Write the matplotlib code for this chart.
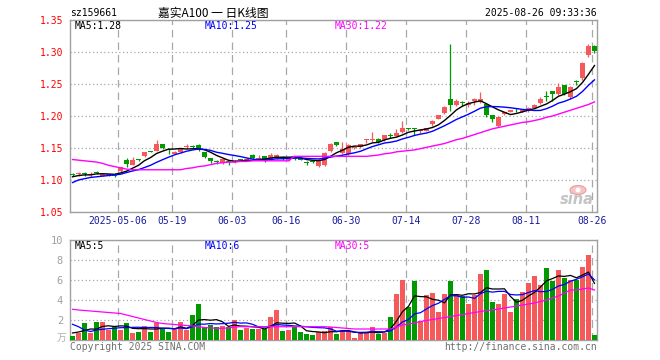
import numpy as np
import pandas as pd
import matplotlib
matplotlib.use("Agg")
import matplotlib.pyplot as plt
from matplotlib.patches import Ellipse

# ---- daily K data for sz159661 (嘉实A100)
opens = [1.109, 1.109, 1.111, 1.108, 1.112, 1.107, 1.107, 1.110, 1.114, 1.131,
         1.123, 1.132, 1.137, 1.145, 1.146, 1.156, 1.148, 1.141, 1.143, 1.152,
         1.153, 1.155, 1.143, 1.135, 1.129, 1.126, 1.129, 1.128, 1.132, 1.131,
         1.139, 1.133, 1.137, 1.132, 1.134, 1.135, 1.131, 1.134, 1.133, 1.127,
         1.129, 1.122, 1.124, 1.145, 1.159, 1.142, 1.140, 1.150, 1.151, 1.163,
         1.163, 1.164, 1.162, 1.170, 1.169, 1.175, 1.181, 1.181, 1.176, 1.177,
         1.187, 1.196, 1.204, 1.226, 1.217, 1.222, 1.217, 1.223, 1.222, 1.219,
         1.202, 1.184, 1.203, 1.207, 1.212, 1.207, 1.208, 1.213, 1.221, 1.230,
         1.239, 1.234, 1.248, 1.230, 1.254, 1.259, 1.295, 1.310]
highs = [1.111, 1.113, 1.113, 1.112, 1.114, 1.110, 1.110, 1.111, 1.121, 1.134,
         1.136, 1.133, 1.144, 1.146, 1.162, 1.156, 1.148, 1.145, 1.149, 1.156,
         1.154, 1.157, 1.144, 1.135, 1.131, 1.134, 1.130, 1.131, 1.133, 1.135,
         1.140, 1.139, 1.138, 1.142, 1.140, 1.137, 1.136, 1.135, 1.134, 1.129,
         1.130, 1.133, 1.144, 1.158, 1.160, 1.160, 1.156, 1.153, 1.157, 1.164,
         1.175, 1.165, 1.171, 1.173, 1.179, 1.192, 1.182, 1.182, 1.179, 1.182,
         1.193, 1.202, 1.215, 1.313, 1.226, 1.223, 1.223, 1.228, 1.238, 1.219,
         1.202, 1.200, 1.207, 1.208, 1.213, 1.209, 1.214, 1.219, 1.229, 1.239,
         1.239, 1.252, 1.249, 1.247, 1.256, 1.284, 1.3125, 1.311]
lows = [1.107, 1.107, 1.107, 1.105, 1.110, 1.106, 1.106, 1.105, 1.113, 1.121,
        1.123, 1.130, 1.136, 1.143, 1.145, 1.148, 1.140, 1.141, 1.142, 1.150,
        1.150, 1.145, 1.135, 1.127, 1.125, 1.125, 1.124, 1.127, 1.129, 1.129,
        1.133, 1.133, 1.128, 1.131, 1.133, 1.131, 1.130, 1.131, 1.131, 1.123,
        1.126, 1.121, 1.122, 1.144, 1.153, 1.141, 1.139, 1.149, 1.150, 1.158,
        1.159, 1.158, 1.161, 1.165, 1.168, 1.174, 1.178, 1.170, 1.174, 1.176,
        1.185, 1.195, 1.203, 1.208, 1.215, 1.216, 1.214, 1.217, 1.220, 1.199,
        1.191, 1.183, 1.202, 1.206, 1.206, 1.206, 1.207, 1.212, 1.219, 1.224,
        1.224, 1.233, 1.233, 1.226, 1.249, 1.257, 1.292, 1.299]
closes = [1.108, 1.110, 1.110, 1.109, 1.111, 1.109, 1.108, 1.107, 1.120, 1.125,
          1.132, 1.131, 1.143, 1.144, 1.157, 1.150, 1.147, 1.144, 1.148, 1.153,
          1.152, 1.147, 1.136, 1.129, 1.128, 1.133, 1.128, 1.129, 1.131, 1.132,
          1.134, 1.135, 1.131, 1.139, 1.139, 1.134, 1.135, 1.133, 1.132, 1.126,
          1.128, 1.132, 1.142, 1.157, 1.154, 1.148, 1.155, 1.151, 1.156, 1.164,
          1.164, 1.159, 1.170, 1.169, 1.173, 1.181, 1.180, 1.180, 1.177, 1.181,
          1.192, 1.201, 1.214, 1.217, 1.224, 1.221, 1.221, 1.226, 1.226, 1.202,
          1.196, 1.198, 1.207, 1.208, 1.211, 1.208, 1.213, 1.217, 1.227, 1.229,
          1.235, 1.246, 1.234, 1.246, 1.253, 1.283, 1.310, 1.302]
volumes = [0.4, 0.75, 1.7, 0.75, 1.8, 1.8, 1.05, 1.35, 1.05, 1.7,
           0.7, 0.85, 1.4, 0.85, 1.7, 1.1, 0.85, 1.1, 1.8, 1.0,
           2.5, 3.6, 1.3, 1.5, 1.3, 1.4, 1.3, 2.0, 1.0, 1.2,
           1.1, 1.1, 1.1, 2.3, 3.0, 0.9, 1.0, 1.3, 0.8, 0.63,
           0.5, 0.8, 0.9, 1.33, 0.6, 1.0, 0.9, 0.2, 0.77, 0.77,
           1.27, 0.6, 0.67, 2.3, 4.6, 6.0, 3.27, 5.9, 1.93, 4.5,
           4.73, 2.83, 4.6, 5.9, 4.6, 4.43, 3.6, 4.5, 6.6, 7.0,
           3.8, 3.6, 4.6, 2.8, 4.1, 4.8, 5.7, 6.4, 5.5, 7.2,
           5.93, 7.0, 6.17, 6.0, 6.0, 7.3, 8.5, 0.5]

# moving-average values visible before a full window exists (taken from the chart)
ma5_head = [1.105, 1.107, 1.108, 1.108]
ma10_head = [1.096, 1.100, 1.102, 1.104, 1.105, 1.106, 1.107, 1.108, 1.109]
ma30 = [1.132, 1.131, 1.130, 1.129, 1.128, 1.126, 1.123, 1.121, 1.119, 1.117,
        1.116, 1.116, 1.116, 1.116, 1.116, 1.116, 1.116, 1.116, 1.116, 1.118,
        1.119, 1.121, 1.122, 1.124, 1.126, 1.127, 1.128, 1.128, 1.129, 1.129,
        1.130, 1.130, 1.130, 1.130, 1.130, 1.130, 1.130, 1.137, 1.137, 1.137,
        1.137, 1.137, 1.137, 1.137, 1.137, 1.137, 1.137, 1.137, 1.137, 1.137,
        1.138, 1.139, 1.141, 1.142, 1.144, 1.145, 1.146, 1.147, 1.149, 1.151,
        1.153, 1.155, 1.157, 1.160, 1.163, 1.165, 1.168, 1.171, 1.174, 1.177,
        1.180, 1.182, 1.184, 1.186, 1.188, 1.190, 1.191, 1.193, 1.195, 1.198,
        1.200, 1.203, 1.206, 1.209, 1.212, 1.215, 1.218, 1.222]
vol_ma5_head = [0.7, 0.8, 0.95, 1.1]
vol_ma10_head = [1.57, 1.33, 1.0, 0.85, 1.0, 1.07, 1.13, 1.17, 1.23]
vol_ma30 = [3.07, 3.0, 2.95, 2.9, 2.85, 2.8, 2.75, 2.7, 2.65, 2.5,
            2.35, 2.2, 2.05, 1.9, 1.75, 1.65, 1.6, 1.55, 1.5, 1.45,
            1.4, 1.35, 1.25, 1.2, 1.17, 1.17, 1.2, 1.3, 1.33, 1.33,
            1.33, 1.33, 1.33, 1.33, 1.33, 1.33, 1.33, 1.33, 1.33, 1.33,
            1.33, 1.33, 1.33, 1.3, 1.25, 1.2, 1.15, 1.1, 1.1, 1.1,
            1.1, 1.1, 1.1, 1.1, 1.3, 1.5, 1.6, 1.7, 1.85, 1.95,
            2.05, 2.15, 2.25, 2.35, 2.45, 2.55, 2.65, 2.75, 2.85, 2.95,
            3.0, 3.1, 3.2, 3.3, 3.4, 3.5, 3.6, 3.7, 3.85, 4.0,
            4.2, 4.4, 4.7, 5.0, 5.0, 5.1, 5.2, 5.0]

tick_idx = [8, 17, 27, 36, 46, 56, 66, 76, 87]
tick_labels = ["2025-05-06", "05-19", "06-03", "06-16", "06-30",
               "07-14", "07-28", "08-11", "08-26"]
price_ticks = [1.05, 1.10, 1.15, 1.20, 1.25, 1.30, 1.35]
vol_ticks = [2, 4, 6, 8, 10]

RED = "#f65959"
GREEN = "#009a00"
MONO = "DejaVu Sans Mono"
CJK = ["Noto Sans CJK SC", "DejaVu Sans"]


def moving_avg(values, n, head):
    s = pd.Series(values, dtype=float).rolling(n).mean()
    s.iloc[:len(head)] = head
    return s.to_numpy()


x = np.arange(len(closes))
o = np.array(opens)
c = np.array(closes)
up = c >= o
colors = np.where(up, RED, GREEN)

W, H = 660, 360
fig = plt.figure(figsize=(6.6, 3.6), dpi=100, facecolor="white")


def px_axes(left, top, right, bottom):
    return fig.add_axes([left / W, 1 - bottom / H, (right - left) / W, (bottom - top) / H])


def style(ax):
    for sp in ax.spines.values():
        sp.set_color("#a0a0a0")
        sp.set_linewidth(1.0)
    ax.set_xlim(-0.42, len(closes) - 0.58)
    ax.set_xticks([i - 0.4 for i in tick_idx])
    ax.grid(True, axis="x", color="#a8a8a8", lw=0.9, ls=(0, (6, 4)))
    ax.grid(True, axis="y", color="#a8a8a8", lw=0.9, ls=(0, (1, 2)))
    ax.set_axisbelow(True)
    ax.tick_params(length=0)


# --------------------------------------- price panel
ax = px_axes(70, 20, 597, 212)
style(ax)
ax.set_ylim(1.05, 1.35)
ax.set_yticks(price_ticks)
ax.set_yticklabels([f"{t:.2f}" for t in price_ticks], color="red",
                   fontsize=7, family=MONO)
ax.set_xticklabels(tick_labels, color="#1a1aa0", fontsize=7, family=MONO)
ax.tick_params(axis="y", pad=5)
ax.tick_params(axis="x", pad=3)

ax.vlines(x, lows, highs, colors=colors, lw=0.9, zorder=3)
body = np.maximum(np.abs(c - o), 0.0016)
ax.bar(x, body, bottom=np.minimum(o, c), width=0.85, color=colors,
       lw=0, zorder=4)

ax.plot(x, moving_avg(closes, 5, ma5_head), color="black", lw=1.0, zorder=5)
ax.plot(x, moving_avg(closes, 10, ma10_head), color="#0000ff", lw=1.0, zorder=5)
ax.plot(x, ma30, color="#ff00ff", lw=1.0, zorder=5)

lbl = dict(transform=ax.transAxes, fontsize=7, family=MONO, va="center")
ax.text(5 / 527, 1 - 6 / 192, "MA5:1.28", color="black", **lbl)
ax.text(135 / 527, 1 - 6 / 192, "MA10:1.25", color="#0000ff", **lbl)
ax.text(265 / 527, 1 - 6 / 192, "MA30:1.22", color="#ff00ff", **lbl)

# sina watermark (eye + word)
ax.add_patch(Ellipse((508 / 527, 1 - 170 / 192), 16 / 527, 9 / 192,
                     transform=ax.transAxes, facecolor="#f6c4c4",
                     edgecolor="#e8a0a0", lw=0.8, zorder=2))
ax.add_patch(Ellipse((508 / 527, 1 - 170 / 192), 5 / 527, 5 / 192,
                     transform=ax.transAxes, facecolor="white",
                     edgecolor="none", zorder=2))
ax.text(524 / 527, 1 - 180 / 192, "sina", transform=ax.transAxes, ha="right",
        va="center", fontsize=10.5, fontweight="bold", style="italic",
        color="#c4c4c4", family="DejaVu Sans", zorder=2)

# --------------------------------------- volume panel
av = px_axes(70, 240, 597, 340)
style(av)
av.set_ylim(0, 10)
av.set_yticks(vol_ticks)
av.set_yticklabels([str(t) for t in vol_ticks], color="#a0a0a0",
                   fontsize=7.5, family=MONO)
av.tick_params(axis="y", pad=5)
av.set_xticklabels([])

av.bar(x, volumes, width=0.85, color=colors, lw=0, zorder=3)
av.plot(x, moving_avg(volumes, 5, vol_ma5_head), color="black", lw=0.9, zorder=4)
av.plot(x, moving_avg(volumes, 10, vol_ma10_head), color="#0000ff", lw=0.9, zorder=4)
av.plot(x, vol_ma30, color="#ff00ff", lw=0.9, zorder=4)

vl = dict(transform=av.transAxes, fontsize=7, family=MONO, va="center")
av.text(5 / 527, 1 - 6 / 100, "MA5:5", color="black", **vl)
av.text(135 / 527, 1 - 6 / 100, "MA10:6", color="#0000ff", **vl)
av.text(265 / 527, 1 - 6 / 100, "MA30:5", color="#ff00ff", **vl)

# --------------------------------------- header / footer texts
fig.text(70 / W, 1 - 13 / H, "sz159661", fontsize=7, family=MONO, va="center")
fig.text(213 / W, 1 - 13 / H, "嘉实A100 一 日K线图", fontsize=8.5, family=CJK,
         ha="center", va="center")
fig.text(597 / W, 1 - 13 / H, "2025-08-26 09:33:36", fontsize=7, family=MONO,
         ha="right", va="center")
fig.text(66 / W, 1 - 338 / H, "万", fontsize=7, family=CJK, color="#b0b0b0",
         ha="right", va="center")
fig.text(70 / W, 1 - 347 / H, "Copyright 2025 SINA.COM", fontsize=7, family=MONO,
         color="#707070", va="center")
fig.text(597 / W, 1 - 347 / H, "http://finance.sina.com.cn", fontsize=7,
         family=MONO, color="#707070", ha="right", va="center")

fig.savefig("out.png", dpi=100, facecolor="white")
